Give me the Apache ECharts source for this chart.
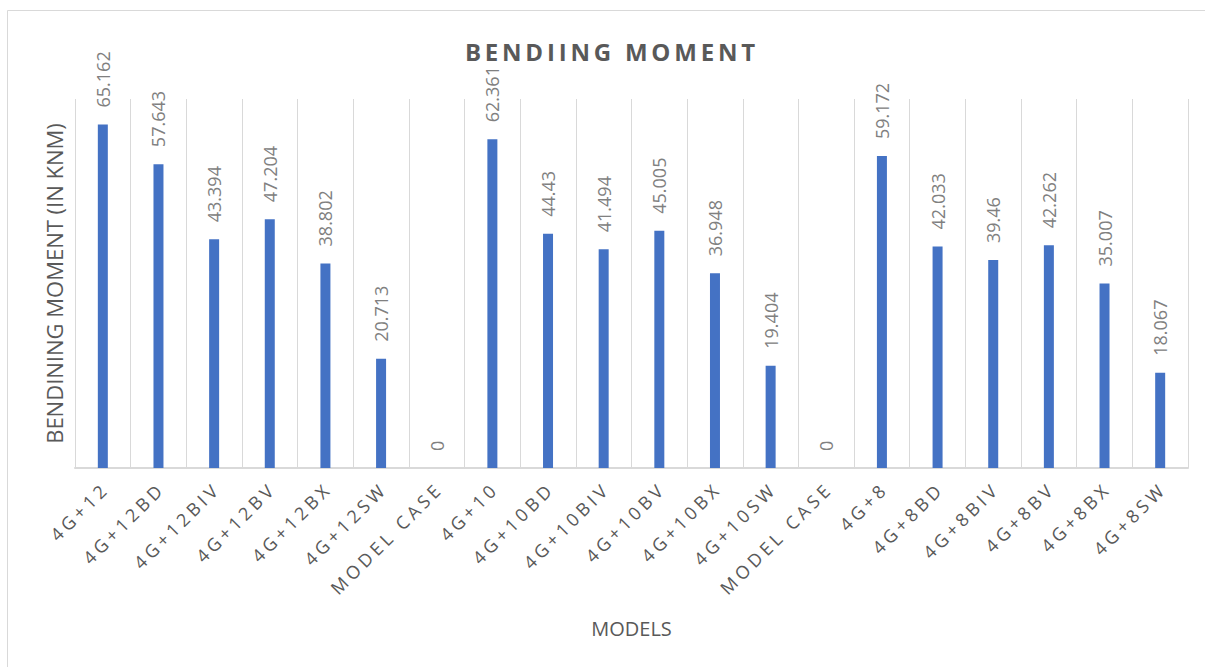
<!DOCTYPE html>
<html>
<head>
<meta charset="utf-8">
<script src="https://cdn.jsdelivr.net/npm/echarts@6/dist/echarts.min.js"></script>
<style>
html,body{margin:0;padding:0;background:#fff;}
#chart{width:1205px;height:667px;}
</style>
</head>
<body>
<div id="chart"></div>
<script>
const titleText = 'BENDIING MOMENT';
const yAxisName = 'BENDINING MOMENT (IN KNM)';
const xAxisName = 'MODELS';
const categories = ['4G+12','4G+12BD','4G+12BIV','4G+12BV','4G+12BX','4G+12SW','MODEL CASE',
  '4G+10','4G+10BD','4G+10BIV','4G+10BV','4G+10BX','4G+10SW','MODEL CASE',
  '4G+8','4G+8BD','4G+8BIV','4G+8BV','4G+8BX','4G+8SW'];
const moments = [65.162, 57.643, 43.394, 47.204, 38.802, 20.713, 0,
  62.361, 44.43, 41.494, 45.005, 36.948, 19.404, 0,
  59.172, 42.033, 39.46, 42.262, 35.007, 18.067];

const FONT = '"Open Sans", "Noto Sans", sans-serif';
const TITLE_SPACING = 3.8;
const LABEL_SPACING = 4;
const chart = echarts.init(document.getElementById('chart'), null, {renderer: 'svg'});
chart.setOption({
  animation: false,
  backgroundColor: '#ffffff',
  title: {
    text: titleText,
    left: 605,
    top: 34,
    textAlign: 'center',
    textStyle: {fontFamily: FONT, fontSize: 24, fontWeight: 'bold', color: '#595959'}
  },
  graphic: [{
    type: 'rect',
    shape: {x: 7.5, y: 10.5, width: 1300, height: 700},
    style: {fill: 'none', stroke: '#d9d9d9', lineWidth: 1},
    silent: true
  }],
  grid: {left: 75, right: 17, top: 99, bottom: 199},
  xAxis: {
    type: 'category',
    data: categories,
    name: xAxisName,
    nameLocation: 'middle',
    nameGap: 150,
    nameTextStyle: {fontFamily: FONT, fontSize: 20, color: '#595959'},
    axisLine: {show: true, lineStyle: {color: '#d9d9d9', width: 2}},
    axisTick: {show: false},
    splitLine: {show: true, lineStyle: {color: '#d9d9d9', width: 1}},
    axisLabel: {
      interval: 0, rotate: 45, margin: 20,
      fontFamily: FONT, fontSize: 18, color: '#595959'
    }
  },
  yAxis: {
    type: 'value',
    min: 0, max: 70,
    name: yAxisName,
    nameLocation: 'middle',
    nameGap: 10,
    nameTextStyle: {fontFamily: FONT, fontSize: 22, color: '#595959'},
    axisLine: {show: false},
    axisTick: {show: false},
    axisLabel: {show: false},
    splitLine: {show: false}
  },
  series: [{
    type: 'bar',
    data: moments,
    barWidth: 10,
    itemStyle: {color: '#4472C4'},
    label: {
      show: true,
      position: 'top',
      distance: 17,
      rotate: 90,
      align: 'left',
      verticalAlign: 'middle',
      fontFamily: FONT,
      fontSize: 18,
      color: '#808080',
      formatter: p => String(p.value)
    }
  }]
});

function applySpacing() {
  const texts = document.querySelectorAll('#chart svg text');
  const catSet = new Set(categories);
  texts.forEach(t => {
    const s = t.textContent;
    if (s === titleText) {
      t.setAttribute('letter-spacing', TITLE_SPACING + 'px');
      t.setAttribute('dx', String(TITLE_SPACING / 2));
    } else if (catSet.has(s)) {
      t.setAttribute('letter-spacing', LABEL_SPACING + 'px');
      t.setAttribute('dx', String(LABEL_SPACING));
    }
  });
}
applySpacing();
chart.on('finished', applySpacing);
setTimeout(applySpacing, 50);
</script>
</body>
</html>
